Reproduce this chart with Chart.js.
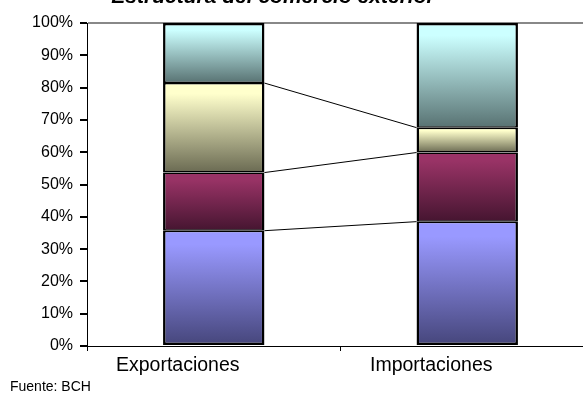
<!DOCTYPE html>
<html>
<head>
<meta charset="utf-8">
<script src="https://cdn.jsdelivr.net/npm/chart.js@4"></script>
<style>
  html, body { margin: 0; padding: 0; background: #fff; overflow: hidden; }
  #wrap { position: absolute; left: 0; top: 0; width: 600px; height: 394px; }
</style>
</head>
<body>
<div id="wrap"><canvas id="grafico"></canvas></div>
<script>
const categorias = ['Exportaciones', 'Importaciones'];
const serie1 = [35.7, 38.5];
const serie2 = [18.0, 21.4];
const serie3 = [27.7, 7.7];
const serie4 = [18.6, 32.4];
const nombresSeries = ['Serie 1', 'Serie 2', 'Serie 3', 'Serie 4'];
const ticksY = [0, 10, 20, 30, 40, 50, 60, 70, 80, 90, 100];
const titulo = 'Estructura del comercio exterior';
const fuente = 'Fuente: BCH';

const series = [serie1, serie2, serie3, serie4];
const colores = [
    ['#9999ff', '#45457a'],
    ['#993366', '#451530'],
    ['#ffffcc', '#6a6a52'],
    ['#ccffff', '#587272']
];

function degradado(c) {
    const [claro, oscuro] = colores[c.datasetIndex];
    const chart = c.chart;
    const y = chart.scales.y;
    if (c.type !== 'data' || !chart.chartArea || !y) return claro;
    let base = 0;
    for (let d = 0; d < c.datasetIndex; d++) base += series[d][c.dataIndex];
    const tope = base + series[c.datasetIndex][c.dataIndex];
    const y0 = y.getPixelForValue(tope);
    const y1 = y.getPixelForValue(base);
    const g = chart.ctx.createLinearGradient(0, y0, 0, y1);
    g.addColorStop(0, claro);
    g.addColorStop(0.12, claro);
    g.addColorStop(1, oscuro);
    return g;
}

// borde exterior mas grueso que el borde entre segmentos
function bordes(c) {
    const ultimo = c.datasetIndex === series.length - 1;
    const primero = c.datasetIndex === 0;
    return { left: 2.5, right: 2.5, top: ultimo ? 2.5 : 1.5, bottom: primero ? 2.5 : 1.5 };
}

// lineas de serie entre las dos barras
const lineasSerie = {
    id: 'lineasSerie',
    afterDatasetsDraw(chart) {
        const ctx = chart.ctx;
        ctx.save();
        ctx.strokeStyle = '#000';
        ctx.lineWidth = 1;
        for (let d = 0; d < series.length - 1; d++) {
            const m = chart.getDatasetMeta(d).data;
            const a = m[0], b = m[1];
            ctx.beginPath();
            ctx.moveTo(a.x + a.width / 2, a.y);
            ctx.lineTo(b.x - b.width / 2, b.y);
            ctx.stroke();
        }
        ctx.restore();
    }
};

const textos = {
    id: 'textos',
    afterDraw(chart) {
        const ctx = chart.ctx;
        ctx.save();
        ctx.fillStyle = '#000';
        ctx.textAlign = 'center';
        ctx.textBaseline = 'alphabetic';
        ctx.font = 'italic bold 21px "Liberation Sans", Arial, sans-serif';
        ctx.fillText(titulo, 273, 3);
        ctx.textAlign = 'left';
        ctx.font = '14px "Liberation Sans", Arial, sans-serif';
        ctx.fillText(fuente, 10, 391);
        ctx.restore();
    }
};

document.addEventListener('DOMContentLoaded', () => {
    const ctx = document.getElementById('grafico');
    new Chart(ctx, {
        type: 'bar',
        data: {
            labels: categorias,
            datasets: series.map((s, i) => ({
                label: nombresSeries[i],
                data: s,
                backgroundColor: degradado,
                borderColor: '#000',
                borderWidth: bordes,
                borderSkipped: false,
                inflateAmount: 0,
                categoryPercentage: 1,
                barPercentage: 0.4
            }))
        },
        options: {
            responsive: true,
            maintainAspectRatio: false,
            animation: false,
            layout: { padding: { top: 23, right: 6, bottom: 0, left: 0 } },
            scales: {
                x: {
                    stacked: true,
                    grid: { offset: true, color: 'transparent', tickColor: '#000', tickLength: 5 },
                    border: { color: '#000', width: 1 },
                    ticks: {
                        color: '#000',
                        padding: 3,
                        labelOffset: -36,
                        font: { family: '"Liberation Sans", Arial, sans-serif', size: 19.5 }
                    },
                    afterFit: s => { s.height = 48; }
                },
                y: {
                    stacked: true,
                    min: 0,
                    max: 100,
                    afterBuildTicks: s => { s.ticks = ticksY.map(v => ({ value: v })); },
                    grid: {
                        color: c => c.tick && c.tick.value === 100 ? '#888' : 'transparent',
                        lineWidth: 2,
                        tickColor: '#000',
                        tickLength: 7
                    },
                    border: { color: '#000', width: 1 },
                    ticks: {
                        color: '#000',
                        padding: 7,
                        callback: v => v + '%',
                        font: { family: '"Liberation Sans", Arial, sans-serif', size: 16 }
                    },
                    afterFit: s => { s.width = 87; }
                }
            },
            plugins: {
                legend: { display: false },
                title: { display: false },
                tooltip: { enabled: false }
            }
        },
        plugins: [lineasSerie, textos]
    });
});
</script>
</body>
</html>
